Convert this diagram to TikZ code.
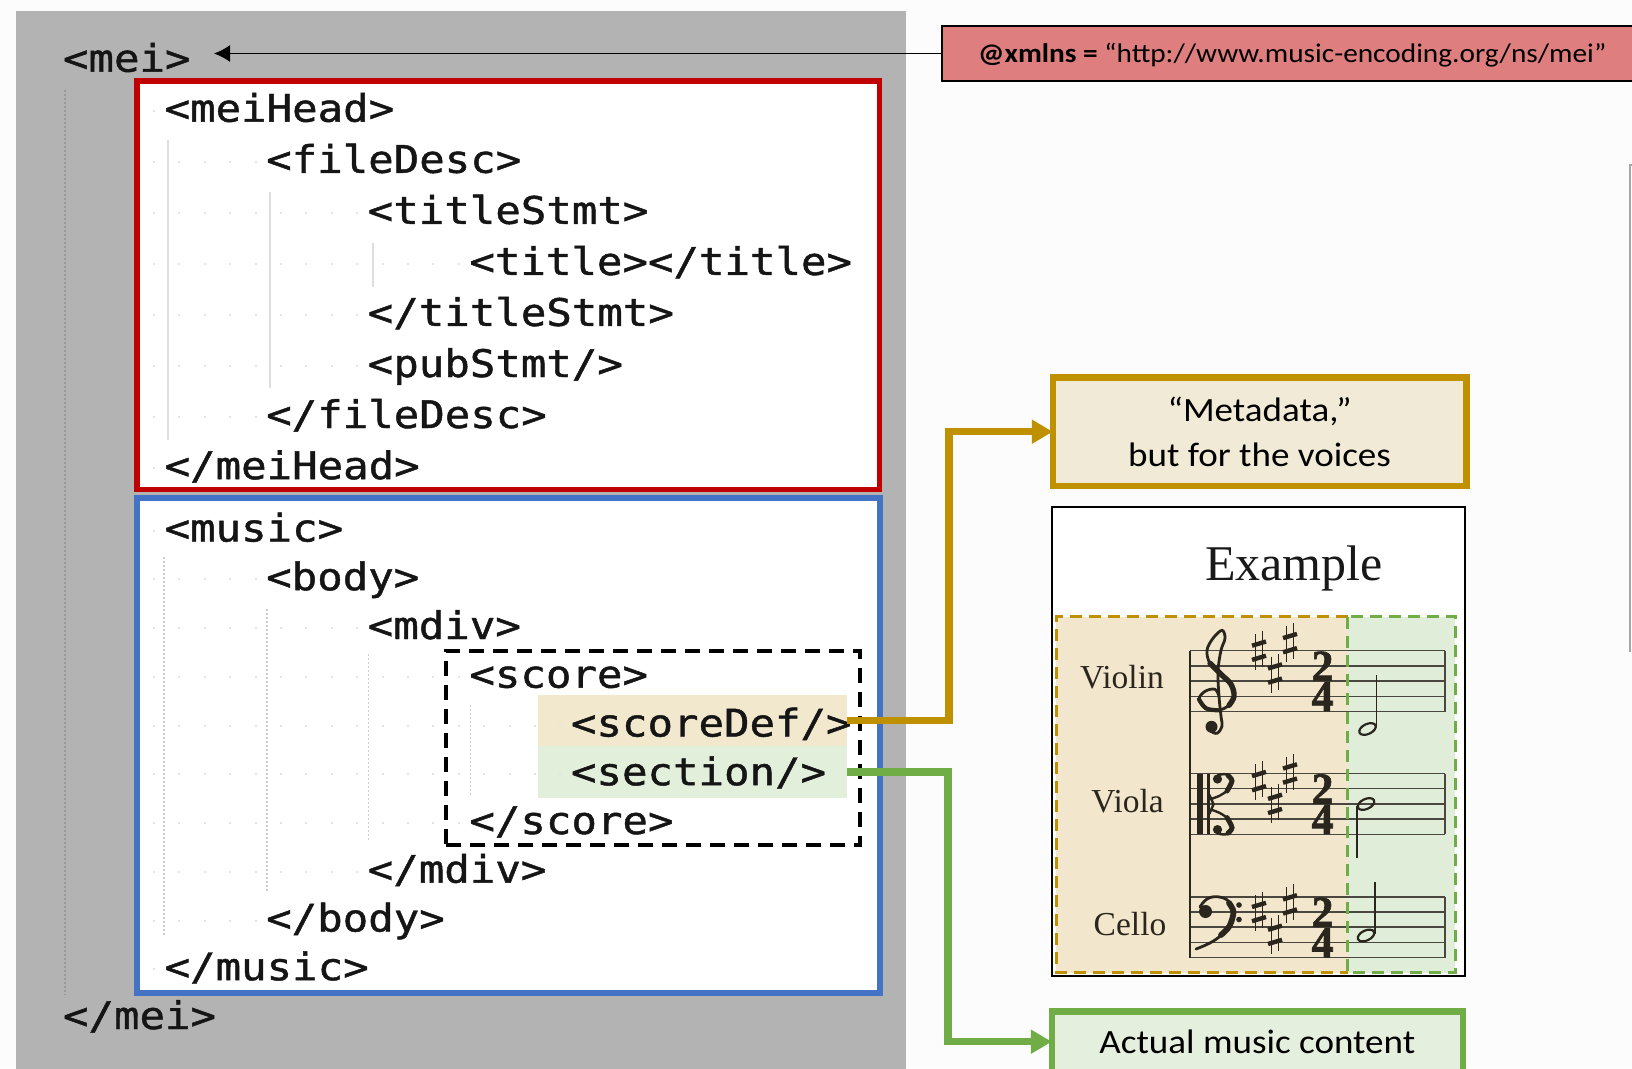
\documentclass[tikz,border=0pt]{standalone}
\usepackage{fontspec}
\usetikzlibrary{arrows.meta}
\newfontfamily\codefont[FakeStretch=1.115,FakeBold=1.2]{DejaVu Sans Mono}
\newfontfamily\calfont[FakeStretch=1.09]{Carlito}
\newfontfamily\serifnote{Liberation Serif}
\newfontfamily\serifbold[FakeBold=1.5]{Liberation Serif Bold}

\definecolor{pagebg}{HTML}{FCFCFC}
\definecolor{panelgrey}{HTML}{B3B3B3}
\definecolor{headred}{HTML}{C00000}
\definecolor{musicblue}{HTML}{4472C4}
\definecolor{gold}{HTML}{BF9000}
\definecolor{leaf}{HTML}{70AD47}
\definecolor{tanhl}{HTML}{F2E8CE}
\definecolor{greenhl}{HTML}{E2EFDA}
\definecolor{xmlnsred}{HTML}{DF7E7E}
\definecolor{metafill}{HTML}{F1EAD6}
\definecolor{actualfill}{HTML}{E5EFDD}
\definecolor{extan}{HTML}{F2E7CC}
\definecolor{exgreen}{HTML}{E0EDD8}
\definecolor{ink}{HTML}{2A261E}
\definecolor{codeink}{HTML}{151515}

\begin{document}
\begin{tikzpicture}[x=1pt,y=-1pt,
  code/.style={font=\codefont\fontsize{38}{40}\selectfont, text=codeink,
    anchor=base west, inner sep=0pt, outer sep=0pt},
  codebox/.style={fill=white, inner sep=0pt, outer sep=0pt},
  guide/.style={draw=black!13, line width=1.2pt},
  dotguide/.style={draw=black!20, line width=1.2pt, dash pattern=on 1.5pt off 2.5pt},
  hl/.style={inner sep=0pt, outer sep=0pt, minimum width=309pt, minimum height=51.5pt},
  conn/.style={line width=7.3pt, -{Triangle[length=21pt,width=23pt]}},
  callout/.style={line width=6.5pt, inner sep=0pt, outer sep=0pt,
    font=\calfont\fontsize{34}{45}\selectfont, align=center},
  staffline/.style={draw=ink!85, line width=1.5pt},
  label/.style={font=\serifnote\fontsize{33.5}{34}\selectfont, text=ink,
    anchor=base east, inner sep=0pt},
  timesig/.style={font=\serifbold\fontsize{44}{30.4}\selectfont, text=ink,
    align=center, inner sep=0pt},
  sharpsym/.pic={
    \draw[ink, line width=1.5pt] (-3.4,-17) -- (-3.4,19) (3.4,-20) -- (3.4,16);
    \draw[ink, line width=4.4pt] (-7,-5) -- (7,-9.2) (-7,9.2) -- (7,5);
  }
]
\useasboundingbox (0,0) rectangle (1632,1068);
\fill[pagebg] (0,0) rectangle (1632,1068);

% frame of a box cut by the right edge
\draw[black!35, line width=2pt] (1640,165) -- (1630,165) -- (1630,652);

% ---------------- code listing ----------------
\fill[panelgrey] (16,11) rectangle (906,1072);
\draw[draw=black!40, line width=1.2pt, dash pattern=on 1.5pt off 2.5pt] (65,90) -- (65,995);

\node[codebox, draw=headred, line width=5.5pt, minimum width=742.5pt,
  minimum height=408.5pt] (headbox) at (508,285) {};
\node[codebox, draw=musicblue, line width=6pt, minimum width=742.7pt,
  minimum height=495pt] (musicbox) at (508.3,745.5) {};

% indentation guides
\draw[guide] (168,140) -- (168,440) (270,192) -- (270,388) (373,243) -- (373,287);
\draw[dotguide] (164,557) -- (164,937) (267,609) -- (267,892)
  (368.5,654) -- (368.5,842) (470.6,705) -- (470.6,795);

% highlighted children of <score>
\node[hl, fill=tanhl] (hlDef) at (692.5,720.25) {};
\node[hl, fill=greenhl] (hlSec) at (692.5,772) {};

% whitespace markers
\foreach \yy/\lv in {121.7/1,172.8/2,223.8/3,274.9/4,325.9/3,377/3,428/2,479.1/1,
  541.5/1,590.2/2,639/3,687.7/4,736.5/5,785.2/5,834/4,882.7/3,931.5/2,980.2/1}{
  \foreach \k in {0,1,2}{
    \fill[black!20!panelgrey!70!white] ({77.7+25.4*\k-1},{\yy-12}) rectangle ++(2,2);
  }
  \pgfmathtruncatemacro\last{4*\lv-1}
  \foreach \k in {3,...,\last}{
    \fill[black!11] ({77.7+25.4*\k-1},{\yy-12}) rectangle ++(2,2);
  }
}

\node[code] (mei)          at (63,71.7)    {<mei>};
\node[code] (meiHead)      at (164.6,121.7) {<meiHead>};
\node[code] (fileDesc)     at (266.2,172.8) {<fileDesc>};
\node[code] (titleStmt)    at (367.8,223.8) {<titleStmt>};
\node[code] (title)        at (469.4,274.9) {<title></title>};
\node[code] (titleStmtEnd) at (367.8,325.9) {</titleStmt>};
\node[code] (pubStmt)      at (367.8,377)   {<pubStmt/>};
\node[code] (fileDescEnd)  at (266.2,428)   {</fileDesc>};
\node[code] (meiHeadEnd)   at (164.6,479.1) {</meiHead>};
\node[code] (music)        at (164.6,541.5) {<music>};
\node[code] (body)         at (266.2,590.2) {<body>};
\node[code] (mdiv)         at (367.8,639)   {<mdiv>};
\node[code] (score)        at (469.4,687.7) {<score>};
\node[code] (scoreDef)     at (571,736.5)   {<scoreDef/>};
\node[code] (section)      at (571,785.2)   {<section/>};
\node[code] (scoreEnd)     at (469.4,834)   {</score>};
\node[code] (mdivEnd)      at (367.8,882.7) {</mdiv>};
\node[code] (bodyEnd)      at (266.2,931.5) {</body>};
\node[code] (musicEnd)     at (164.6,980.2) {</music>};
\node[code] (meiEnd)       at (63,1029)     {</mei>};

\node[draw=black, line width=3.5pt, dash pattern=on 15pt off 9pt, inner sep=0pt,
  outer sep=0pt, minimum width=414pt, minimum height=194pt] (scorebox) at (653,748) {};

% ---------------- namespace attribute ----------------
\node[draw=black, line width=2pt, fill=xmlnsred, inner sep=0pt, outer sep=0pt,
  minimum width=760pt, minimum height=55pt, anchor=west] (xmlns) at (941.5,53.5) {};
\node[font=\calfont\fontsize{26.9}{30}\selectfont, anchor=base west, inner sep=0pt]
  (xmlnstext) at (978,62.7) {\textbf{@xmlns =} “http://www.music-encoding.org/ns/mei”};
\coordinate (meitip) at (214,53.5);
\draw[line width=1.5pt, -{Latex[length=16pt,width=17pt]}] (xmlns.west) -- (meitip);

% ---------------- callouts ----------------
\node[callout, draw=gold, fill=metafill, minimum width=413.5pt, minimum height=108.8pt]
  (meta) at (1259.5,431.7) {“Metadata,”\\but for the voices};
\node[callout, draw=leaf, fill=actualfill, minimum width=411pt, minimum height=60.9pt]
  (actual) at (1257.3,1041.7) {Actual music content};

\draw[conn, gold] (hlDef.east) -- ++(102,0) |- (meta.west);
\draw[conn, leaf] (hlSec.east) -- ++(101,0) |- (actual.west);

% ---------------- score example ----------------
\node[draw=black, line width=2pt, fill=white, inner sep=0pt, outer sep=0pt,
  minimum width=413pt, minimum height=469pt] (exbox) at (1258.5,741.5) {};
\fill[extan] (1056,616.7) rectangle (1347.5,972.7);
\fill[exgreen] (1347.5,616.7) rectangle (1455,972.7);

\node[font=\serifnote\fontsize{50}{50}\selectfont, anchor=base, inner sep=0pt, text=black!90]
  (extitle) at (1294,580) {Example};

\node[label] (violin) at (1164,688) {Violin};
\node[label] (viola)  at (1164,812) {Viola};
\node[label] (cello)  at (1166.5,935) {Cello};

\foreach \top/\nm in {650.7/vn,773.5/va,896.8/vc}{
  \foreach \i in {0,...,4}{
    \draw[staffline] (1190,{\top+15.2*\i}) -- (1445,{\top+15.2*\i});
  }
  \draw[staffline] (1445,\top) -- (1445,{\top+60.8});
  \node[timesig] (time-\nm) at (1322.5,{\top+30.6}) {2\\4};
}
\draw[ink, line width=2pt] (1190,650.7) -- (1190,957.6);

% treble clef
\begin{scope}[shift={(1215,696.3)}, ink, line cap=round]
  \draw[line width=2.8pt] plot[smooth, tension=0.6] coordinates {(4,0) (0,-7) (-10,-5)
    (-16,3) (-9,12) (3,14) (14,9) (19,0) (16,-12) (6,-22) (-5,-33) (-8,-46) (-2,-58)
    (7,-66) (10,-58) (6,-46) (3,-25) (4,0) (6,20) (7,30) (2,37) (-4,35)};
  \draw[line width=5.4pt] plot[smooth, tension=0.6] coordinates {(14,9) (19,0) (16,-12)
    (6,-22) (-5,-33)};
  \draw[line width=4.2pt] plot[smooth, tension=0.6] coordinates {(-16,3) (-9,12) (3,14)};
  \fill (-3.5,30.5) circle (6);
\end{scope}

% alto clef
\begin{scope}[ink, line cap=round]
  \fill (1196.7,773.5) rectangle (1203.3,834.3);
  \fill (1206.7,773.5) rectangle (1209.5,834.3);
  \draw[line width=2.4pt] (1209.5,795) -- (1213.5,804.3) -- (1209.5,813.6);
  \draw[line width=2.4pt] plot[smooth] coordinates {(1211,799) (1220,795.5) (1229,789)
    (1232,780) (1226,774.3) (1218,775)};
  \draw[line width=5pt] plot[smooth] coordinates {(1227,791) (1232,781) (1228,775.5)};
  \fill (1217.5,779) circle (4.6);
  \draw[line width=2.4pt] plot[smooth] coordinates {(1211,809.6) (1220,813.1) (1229,819.6)
    (1232,828.6) (1226,834.3) (1218,833.6)};
  \draw[line width=5pt] plot[smooth] coordinates {(1227,817.6) (1232,827.6) (1228,833.1)};
  \fill (1217.5,829.6) circle (4.6);
\end{scope}

% bass clef
\begin{scope}[ink, line cap=round]
  \fill (1205.5,911.5) circle (6.5);
  \draw[line width=2.8pt] plot[smooth, tension=0.7] coordinates {(1200,907) (1207,899)
    (1218,896.8) (1229,901.5) (1233.5,912) (1229.5,926) (1215,940) (1196,949)};
  \draw[line width=5.8pt] plot[smooth] coordinates {(1229,903) (1233.5,912) (1229.5,926) (1221,935)};
  \fill (1239,905) circle (2.8);
  \fill (1239,919.5) circle (2.8);
\end{scope}

% key signatures
\foreach \yy/\xx in {650.7/1259, 673.5/1275, 643.1/1290,
                     781.1/1259, 803.9/1275, 773.5/1290,
                     912/1259, 934.8/1275, 904.4/1290}{
  \pic at (\xx,\yy) {sharpsym};
}

% half notes
\begin{scope}[ink]
  \draw[line width=2.2pt, rotate around={25:(1367.5,729)}] (1367.5,729) ellipse [x radius=8.8, y radius=5];
  \draw[line width=1.5pt] (1376.3,727) -- (1376.3,675);
  \draw[line width=2.2pt, rotate around={25:(1366,804)}] (1366,804) ellipse [x radius=8.8, y radius=5];
  \draw[line width=1.5pt] (1357.2,806) -- (1357.2,858);
  \draw[line width=2.2pt, rotate around={25:(1366,935.5)}] (1366,935.5) ellipse [x radius=8.8, y radius=5];
  \draw[line width=1.5pt] (1374.8,933.5) -- (1374.8,882);
\end{scope}

% voice-definition and content regions
\draw[gold, line width=3pt, dash pattern=on 12pt off 7pt]
  (1347.5,616.7) -- (1056,616.7) -- (1056,972.7) -- (1347.5,972.7);
\draw[leaf, line width=3pt, dash pattern=on 12pt off 7pt]
  (1347.5,616.7) rectangle (1455,972.7);
\end{tikzpicture}
\end{document}
